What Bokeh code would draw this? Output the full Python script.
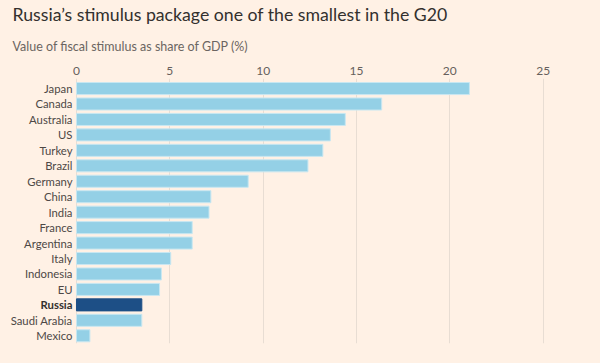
from bokeh.plotting import figure
from bokeh.models import ColumnDataSource, Range1d, Title, FixedTicker
from bokeh.core.properties import value
from bokeh.embed import file_html
from bokeh.resources import INLINE

countries = ["Japan", "Canada", "Australia", "US", "Turkey", "Brazil", "Germany", "China",
             "India", "France", "Argentina", "Italy", "Indonesia", "EU", "Russia",
             "Saudi Arabia", "Mexico"]
values = [21.05, 16.35, 14.4, 13.6, 13.2, 12.4, 9.2, 7.2, 7.1, 6.2, 6.2, 5.05, 4.55, 4.45,
          3.5, 3.5, 0.72]
ticks = [0, 5, 10, 15, 20, 25]
highlight = "Russia"

BG = "#fff1e5"
LIGHT = "#94d0e6"
DARK = "#1d4f86"

ypos = list(range(len(countries)))
colors = [DARK if c == highlight else LIGHT for c in countries]
lines = [DARK if c == highlight else "#c9e7f1" for c in countries]

src = ColumnDataSource(dict(y=ypos, v=values, c=colors, lc=lines))
normal = ColumnDataSource(dict(y=[i for i, c in enumerate(countries) if c != highlight],
                               name=[c for c in countries if c != highlight]))
bold = ColumnDataSource(dict(y=[i for i, c in enumerate(countries) if c == highlight],
                             name=[c for c in countries if c == highlight]))

p = figure(width=584, height=347, output_backend="svg", toolbar_location=None,
           x_range=Range1d(-4.07, 27.0), y_range=Range1d(16.5, -0.65),
           x_axis_location="above", title=None,
           background_fill_color=BG, border_fill_color=BG,
           min_border_left=0, min_border_right=4, min_border_bottom=4, min_border_top=0,
           outline_line_color=None)

p.hbar(y="y", right="v", left=0, height=0.78, fill_color="c", line_color="lc",
       line_width=1, source=src)

p.text(x=0, y="y", text="name", source=normal, x_offset=-4,
       text_align="right", text_baseline="middle", text_font=value("Lato"),
       text_font_size="11.3px", text_color="#4d4845")
p.text(x=0, y="y", text="name", source=bold, x_offset=-4,
       text_align="right", text_baseline="middle", text_font=value("Lato"),
       text_font_size="11.3px", text_color="#33302e", text_font_style="bold")

p.xaxis.ticker = FixedTicker(ticks=ticks)
p.xaxis.axis_line_color = None
p.xaxis.major_tick_line_color = None
p.xaxis.minor_tick_line_color = None
p.xaxis.major_tick_out = 0
p.xaxis.major_tick_in = 0
p.xaxis.major_label_text_font = "Lato"
p.xaxis.major_label_text_font_size = "12px"
p.xaxis.major_label_text_color = "#66605c"
p.xaxis.major_label_standoff = 4
p.yaxis.visible = False

p.xgrid.grid_line_color = "#e8ddd3"
p.xgrid.grid_line_width = 1
p.ygrid.grid_line_color = None

sub = Title(text="Value of fiscal stimulus as share of GDP (%)", text_font="Lato",
            text_font_size="12.5px", text_color="#6b6561", text_font_style="normal",
            align="left", offset=12, standoff=20)
p.add_layout(sub, "above")
main = Title(text="Russia\u2019s stimulus package one of the smallest in the G20", text_font="Lato",
             text_font_size="17.7px", text_color="#33302e", text_font_style="normal",
             align="left", offset=12, standoff=3)
p.add_layout(main, "above")

html = file_html(p, INLINE)
html = html.replace("</head>", "<style>body{background:#fff1e5;}</style></head>", 1)
open("out.html", "w").write(html)
